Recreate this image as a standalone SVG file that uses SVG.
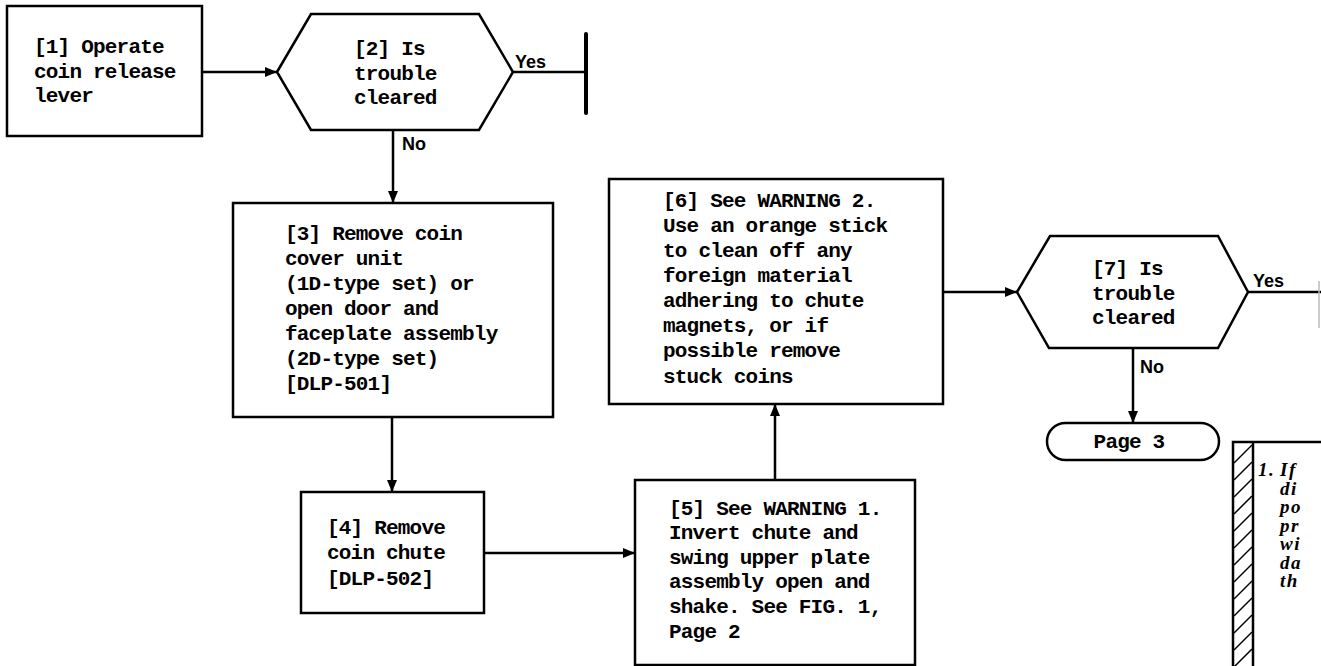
<svg xmlns="http://www.w3.org/2000/svg" width="1321" height="666" viewBox="0 0 1321 666">
<style>
.box{fill:#fff;stroke:#000;stroke-width:2.5}
.t{font-family:"Liberation Mono",monospace;font-weight:bold;font-size:21px;letter-spacing:-0.8px;fill:#000}
.lbl{font-family:"Liberation Sans",Arial,sans-serif;font-weight:bold;font-size:18px;fill:#000}
.ln{stroke:#000;stroke-width:2.5;fill:none}
.note{font-family:"Liberation Serif",serif;font-weight:bold;font-style:italic;font-size:19px;letter-spacing:1.5px;fill:#000}
.hatch{stroke:#000;stroke-width:1.5}
</style>
<defs>
<marker id="ah" viewBox="0 0 12 10" refX="12" refY="5" markerWidth="12" markerHeight="10" markerUnits="userSpaceOnUse" orient="auto">
<path d="M0,0 L12,5 L0,10 Z" fill="#000"/>
</marker>
</defs>
<rect width="1321" height="666" fill="#fff"/>

<g id="connectors">
<line class="ln" x1="202" y1="72" x2="277" y2="72" marker-end="url(#ah)"/>
<line class="ln" x1="393" y1="130" x2="393" y2="203" marker-end="url(#ah)"/>
<line class="ln" x1="513" y1="72" x2="586" y2="72"/>
<line x1="586" y1="34" x2="586" y2="113" stroke="#000" stroke-width="4" stroke-linecap="round"/>
<line class="ln" x1="392" y1="417" x2="392" y2="492" marker-end="url(#ah)"/>
<line class="ln" x1="484" y1="553" x2="635" y2="553" marker-end="url(#ah)"/>
<line class="ln" x1="775" y1="480" x2="775" y2="404" marker-end="url(#ah)"/>
<line class="ln" x1="943" y1="292" x2="1017" y2="292" marker-end="url(#ah)"/>
<line class="ln" x1="1133" y1="348" x2="1133" y2="423" marker-end="url(#ah)"/>
<line class="ln" x1="1248" y1="292" x2="1321" y2="292"/>
<line x1="1319" y1="281" x2="1319" y2="328" stroke="#bbb" stroke-width="1.5"/>
<text class="lbl" x="515" y="68">Yes</text>
<text class="lbl" x="402" y="150">No</text>
<text class="lbl" x="1253" y="287">Yes</text>
<text class="lbl" x="1140" y="373">No</text>
</g>

<g id="n1">
<rect class="box" x="7" y="6" width="195" height="130"/>
<text class="t" x="34" y="53">[1] Operate</text>
<text class="t" x="34" y="78">coin release</text>
<text class="t" x="34" y="102">lever</text>
</g>

<g id="n2">
<polygon class="box" points="277,72 311,14 479,14 513,72 479,130 311,130"/>
<text class="t" x="354" y="55">[2] Is</text>
<text class="t" x="354" y="80">trouble</text>
<text class="t" x="354" y="104">cleared</text>
</g>

<g id="n3">
<rect class="box" x="233" y="203" width="320" height="214"/>
<text class="t" x="285" y="240">[3] Remove coin</text>
<text class="t" x="285" y="265">cover unit</text>
<text class="t" x="285" y="290">(1D-type set) or</text>
<text class="t" x="285" y="315">open door and</text>
<text class="t" x="285" y="340">faceplate assembly</text>
<text class="t" x="285" y="365">(2D-type set)</text>
<text class="t" x="285" y="390">[DLP-501]</text>
</g>

<g id="n4">
<rect class="box" x="301" y="492" width="183" height="121"/>
<text class="t" x="327" y="534">[4] Remove</text>
<text class="t" x="327" y="559">coin chute</text>
<text class="t" x="327" y="585">[DLP-502]</text>
</g>

<g id="n5">
<rect class="box" x="635" y="480" width="280" height="185"/>
<text class="t" x="669" y="515">[5] See WARNING 1.</text>
<text class="t" x="669" y="539">Invert chute and</text>
<text class="t" x="669" y="564">swing upper plate</text>
<text class="t" x="669" y="588">assembly open and</text>
<text class="t" x="669" y="613">shake. See FIG. 1,</text>
<text class="t" x="669" y="638">Page 2</text>
</g>

<g id="n6">
<rect class="box" x="609" y="179" width="334" height="225"/>
<text class="t" x="663" y="207">[6] See WARNING 2.</text>
<text class="t" x="663" y="232">Use an orange stick</text>
<text class="t" x="663" y="257">to clean off any</text>
<text class="t" x="663" y="282">foreign material</text>
<text class="t" x="663" y="307">adhering to chute</text>
<text class="t" x="663" y="332">magnets, or if</text>
<text class="t" x="663" y="357">possible remove</text>
<text class="t" x="663" y="383">stuck coins</text>
</g>

<g id="n7">
<polygon class="box" points="1017,292 1050,236 1218,236 1248,292 1218,348 1049,348"/>
<text class="t" x="1092" y="275">[7] Is</text>
<text class="t" x="1092" y="300">trouble</text>
<text class="t" x="1092" y="324">cleared</text>
</g>

<g id="page3">
<rect class="box" x="1047" y="423" width="172" height="37" rx="18.5"/>
<text class="t" x="1129" y="448" text-anchor="middle">Page 3</text>
</g>

<g id="note">
<rect class="box" x="1233" y="442" width="100" height="240"/>
<line class="ln" x1="1253" y1="442" x2="1253" y2="666"/>
<g class="hatch">
<line x1="1234" y1="463" x2="1252" y2="445"/>
<line x1="1234" y1="480" x2="1252" y2="462"/>
<line x1="1234" y1="497" x2="1252" y2="479"/>
<line x1="1234" y1="514" x2="1252" y2="496"/>
<line x1="1234" y1="531" x2="1252" y2="513"/>
<line x1="1234" y1="548" x2="1252" y2="530"/>
<line x1="1234" y1="565" x2="1252" y2="547"/>
<line x1="1234" y1="582" x2="1252" y2="564"/>
<line x1="1234" y1="599" x2="1252" y2="581"/>
<line x1="1234" y1="616" x2="1252" y2="598"/>
<line x1="1234" y1="633" x2="1252" y2="615"/>
<line x1="1234" y1="650" x2="1252" y2="632"/>
<line x1="1234" y1="667" x2="1252" y2="649"/>
</g>
<text class="note" x="1258" y="476">1.</text>
<text class="note" x="1280" y="476">If</text>
<text class="note" x="1280" y="494.5">di</text>
<text class="note" x="1280" y="513">po</text>
<text class="note" x="1280" y="531.5">pr</text>
<text class="note" x="1280" y="550">wi</text>
<text class="note" x="1280" y="568.5">da</text>
<text class="note" x="1280" y="587">th</text>
</g>
</svg>
